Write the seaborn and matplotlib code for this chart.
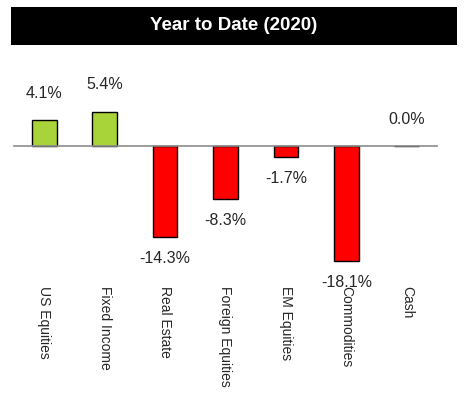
import matplotlib
matplotlib.use("Agg")
import matplotlib.pyplot as plt
import matplotlib.patches as mpatches
from matplotlib.ticker import FixedLocator
import seaborn as sns

# ---- data ----
categories = ['US Equities', 'Fixed Income', 'Real Estate', 'Foreign Equities',
              'EM Equities', 'Commodities', 'Cash']
returns = [4.1, 5.4, -14.3, -8.3, -1.7, -18.1, 0.0]
title = "Year to Date (2020)"

GREEN = '#A9D439'
RED = '#FF0000'
colors = [GREEN if v > 0 else RED for v in returns]

sns.set_style("white")
plt.rcParams['font.family'] = ['Liberation Sans', 'DejaVu Sans']

fig = plt.figure(figsize=(4.68, 3.99), dpi=100)

# ---- title bar ----
fig.patches.append(mpatches.Rectangle((11 / 468, 1 - 45 / 399), 446 / 468, 38 / 399,
                                      transform=fig.transFigure, facecolor='black',
                                      edgecolor='none', zorder=0))
fig.text(234 / 468, 1 - 26 / 399, title, color='white', fontsize=13.5, fontweight='bold',
         ha='center', va='center')

# ---- bars ----
ax = fig.add_axes([14 / 468, (399 - 280) / 399, 423 / 468, 225 / 399])
sns.barplot(x=categories, y=returns, hue=categories, palette=colors, legend=False,
            saturation=1, width=0.41, edgecolor='black', linewidth=1, ax=ax, zorder=3)
ax.set_ylim(-21.1, 14.33)
ax.set_xlim(-0.5, len(categories) - 0.5)

for i, v in enumerate(returns):
    if v >= 0:
        ax.annotate(f"{v:.1f}%", (i, v), xytext=(0, 14), textcoords='offset points',
                    ha='center', va='bottom', fontsize=11.5)
    else:
        ax.annotate(f"{v:.1f}%", (i, v), xytext=(0, -10), textcoords='offset points',
                    ha='center', va='top', fontsize=11.5)

# zero line with category separators
for s in ['top', 'right', 'left']:
    ax.spines[s].set_visible(False)
ax.spines['bottom'].set_position(('data', 0))
ax.spines['bottom'].set_color('#8c8c8c')
ax.spines['bottom'].set_linewidth(1.2)
ax.spines['bottom'].set_zorder(4)
ax.xaxis.set_minor_locator(FixedLocator([i - 0.5 for i in range(len(categories) + 1)]))
ax.tick_params(axis='x', which='minor', direction='in', length=3.5, color='#8c8c8c', width=1)
ax.tick_params(axis='x', which='major', length=0, pad=101, labelsize=10, labelrotation=-90)
for lab in ax.get_xticklabels():
    lab.set_va('top')
ax.set_yticks([])
ax.set_xlabel('')
ax.set_ylabel('')
ax.grid(False)

plt.savefig('out.png', dpi=100)
